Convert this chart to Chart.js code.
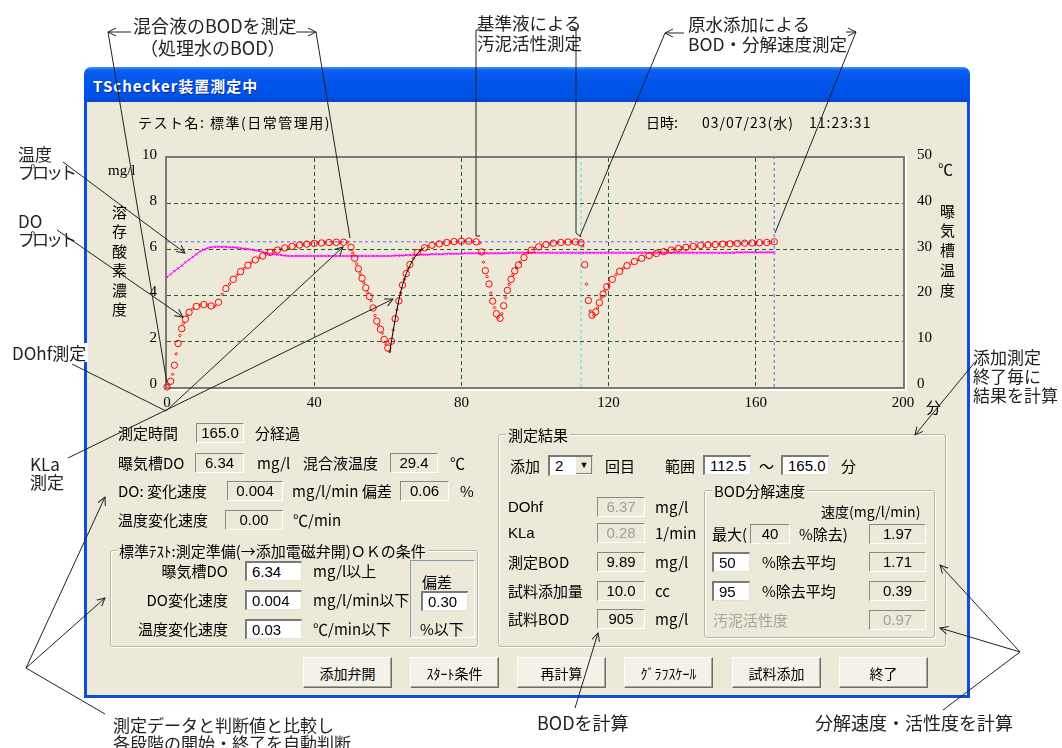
<!DOCTYPE html>
<html lang="ja">
<head>
<meta charset="utf-8">
<title>TSchecker装置測定中</title>
<script src="https://cdn.jsdelivr.net/npm/chart.js@4.4.1/dist/chart.umd.min.js"></script>
<style>
  body { margin:0; width:1062px; height:748px; position:relative; overflow:hidden; background:#fff;
         font-family:"Noto Sans CJK JP", sans-serif; color:#000; }
  .a { position:absolute; white-space:nowrap; line-height:1; }
  .a.lat { font-family:"Liberation Sans", sans-serif; }
  .a.gt { background:#ECE9D8; padding:0 2px; }
  .a.gray { color:#a8a69c; }
  .a.wbg { background:#fff; padding:1px 2px; }
  .a.kana { letter-spacing:-3px; }
  .a.note { color:#222; }
  #titlebar { position:absolute; left:84px; top:67px; width:886px; height:35px; border-radius:7px 7px 0 0;
              background:linear-gradient(to bottom,#3d95ff 0%,#0a5ff0 10%,#0055ea 45%,#0052e6 85%,#0046d0 100%); }
  #winbody { position:absolute; left:84px; top:102px; width:886px; height:596px; box-sizing:border-box;
             background:#ECE9D8; border:3px solid #0a4fe0; border-top:none; }
  #wintitle { position:absolute; left:93px; top:78px; color:#fff; font-weight:bold; font-size:15px;
              letter-spacing:1px; line-height:1; text-shadow:1px 1px 0 #0b2a8a; }
  #graphBox { position:absolute; left:90px; top:135px; width:870px; height:285px; }
  .box { position:absolute; height:20px; box-sizing:border-box; font-family:"Liberation Sans", sans-serif;
         font-size:15px; line-height:18px; text-align:center; border-style:solid; border-width:1px;
         border-color:#8a8a80 #fff #fff #8a8a80; }
  .box.in { background:#fff; border-width:2px 1px 1px 2px; border-color:#7a7a7a #e4e2d6 #e4e2d6 #7a7a7a;
            text-align:left; padding-left:5px; line-height:17px; }
  .box.dis { color:#a0a0a0; }
  .grp { position:absolute; box-sizing:border-box; border:1px solid #b8b5a6; border-radius:3px;
         box-shadow:1px 1px 0 #fff, inset 1px 1px 0 #fff; }
  .btn { position:absolute; top:657px; height:31px; width:89px; box-sizing:border-box; background:#f3f1e8;
         border:1px solid; border-color:#fff #6f6d62 #6f6d62 #fff; box-shadow:inset -1px -1px 0 #aca899;
         font-size:14px; display:flex; align-items:center; justify-content:center; }
  #ui, #notes { position:absolute; left:0; top:0; width:1062px; height:748px; }
  #arrows { position:absolute; left:0; top:0; z-index:10; pointer-events:none; }
</style>
</head>
<body>
<div id="titlebar"></div>
<div id="winbody"></div>
<div id="wintitle">TSchecker装置測定中</div>
<div id="graphBox"><canvas id="graph"></canvas></div>
<div id="ui"></div>
<div id="notes"></div>
<svg id="arrows" width="1062" height="748"></svg>

<script>
// 測定データ（時間は分）
// 第1段階: 混合液のBOD測定
const stage1Time = [0, 0.5, 1, 1.5, 2, 2.5, 3, 3.5, 4, 4.5, 5, 5.5, 6,
  7, 8, 9, 10, 11, 12, 13, 14, 15, 16, 17, 18, 19, 20, 21, 22, 23, 24, 25, 26, 27, 28,
  29, 30, 31, 32, 33, 34, 35, 36, 37, 38, 39, 40, 41, 42, 43, 44, 45, 46, 47, 48, 49];
const stage1DO = [0.0, 0.1, 0.25, 0.55, 0.95, 1.45, 1.9, 2.25, 2.55, 2.78, 2.96, 3.12, 3.26,
  3.42, 3.52, 3.58, 3.6, 3.57, 3.54, 3.53, 3.7, 4.05, 4.3, 4.5, 4.7, 4.88, 5.04, 5.18, 5.32, 5.45, 5.55, 5.64, 5.72, 5.8, 5.88,
  5.93, 5.98, 6.02, 6.07, 6.1, 6.14, 6.17, 6.2, 6.22, 6.24, 6.26, 6.27, 6.28, 6.29, 6.3, 6.31, 6.31, 6.32, 6.31, 6.32, 6.32];

// 第2段階: 基準液添加
const stage2Time = [50, 50.5, 51, 51.5, 52, 52.5, 53, 53.5, 54, 54.5, 55, 55.5, 56, 56.5, 57, 57.5, 58, 58.5,
  59, 59.5, 60, 60.5, 61, 61.5, 62, 62.5, 63, 63.5, 64, 64.5, 65, 65.5, 66,
  67, 68, 69, 70, 71, 72, 73, 74, 75, 76, 77, 78, 79, 80, 81, 82, 83, 84];
const stage2DO = [6.1, 5.85, 5.62, 5.38, 5.16, 4.95, 4.75, 4.55, 4.33, 4.12, 3.95, 3.77, 3.45, 3.12, 2.88, 2.7, 2.52, 2.35,
  2.08, 1.88, 1.7, 1.55, 2.0, 2.5, 2.98, 3.38, 3.76, 4.1, 4.45, 4.7, 4.95, 5.15, 5.35,
  5.62, 5.87, 5.98, 6.08, 6.14, 6.19, 6.22, 6.25, 6.28, 6.31, 6.33, 6.35, 6.36, 6.37, 6.37, 6.37, 6.36, 6.34];

// 第3段階: 基準液による汚泥活性測定
const stage3Time = [85, 85.5, 86, 86.5, 87, 87.5, 88, 88.5, 89, 89.5, 90, 90.5, 91, 91.5, 92, 92.5, 93, 93.5,
  94, 94.5, 95, 95.5, 96, 97, 98, 99, 100, 101, 102, 103, 104, 105, 106, 107, 108, 109, 110, 111, 112];
const stage3DO = [6.28, 5.9, 5.45, 5.08, 4.82, 4.5, 4.1, 3.75, 3.47, 3.2, 3.03, 3.0, 3.2, 3.55, 3.9, 4.22, 4.48, 4.7,
  4.9, 5.07, 5.2, 5.33, 5.45, 5.65, 5.85, 5.98, 6.05, 6.12, 6.17, 6.22, 6.25, 6.28, 6.3, 6.31, 6.32, 6.33, 6.33, 6.34, 6.33];

// 第4段階: 原水添加によるBOD・分解速度測定
const stage4Time = [112.5, 113, 113.5, 114, 114.5, 115, 115.5, 116, 116.5, 117, 117.5, 118, 118.5, 119, 119.5, 120,
  121, 122, 123, 124, 125, 126, 127, 128, 129, 130, 131, 132, 133, 134, 135, 136, 137, 138, 139, 140,
  141, 142, 143, 144, 145, 146, 147, 148, 149, 150, 151, 152, 153, 154, 155, 156, 157, 158, 159, 160,
  161, 162, 163, 164, 165];
const stage4DO = [6.3, 6.16, 5.34, 4.49, 3.78, 3.32, 3.14, 3.12, 3.28, 3.45, 3.68, 3.9, 4.06, 4.22, 4.38, 4.5,
  4.7, 4.9, 5.05, 5.19, 5.3, 5.4, 5.48, 5.55, 5.62, 5.68, 5.74, 5.79, 5.83, 5.87, 5.91, 5.95, 5.98, 6.02, 6.05, 6.08,
  6.1, 6.12, 6.14, 6.16, 6.18, 6.19, 6.2, 6.21, 6.22, 6.23, 6.24, 6.25, 6.25, 6.26, 6.27, 6.27, 6.28, 6.28, 6.29, 6.29,
  6.3, 6.3, 6.31, 6.32, 6.34];

// 再曝気のフィッティング曲線（KLa測定）
const fitTime = [60.5, 61, 61.5, 62, 62.5, 63, 63.5, 64, 65, 66, 67, 68, 69, 70];
const fitDO = [1.5, 2.0, 2.5, 2.95, 3.4, 3.8, 4.15, 4.45, 4.95, 5.3, 5.6, 5.82, 5.98, 6.1];

// 曝気槽温度（1分毎, ℃）
const tempValues = [
  24.0, 24.6, 25.3, 25.9, 26.5, 27.2, 27.8, 28.4, 29.0, 29.6,
  30.0, 30.3, 30.5, 30.6, 30.6, 30.6, 30.6, 30.5, 30.5, 30.4,
  30.3, 30.2, 30.1, 30.0, 29.8, 29.7, 29.5, 29.3, 29.1, 29.0,
  28.9, 28.8, 28.7, 28.6, 28.6, 28.6, 28.6, 28.6, 28.6, 28.6,
  28.6, 28.6, 28.6, 28.6, 28.6, 28.6, 28.6, 28.6, 28.6, 28.6,
  28.6, 28.6, 28.6, 28.6, 28.6, 28.6, 28.6, 28.6, 28.6, 28.6,
  28.6, 28.6, 28.7, 28.7, 28.7, 28.8, 28.8, 28.8, 28.9, 28.9,
  28.9, 28.9, 29.0, 29.0, 29.0, 29.0, 29.1, 29.1, 29.1, 29.1,
  29.1, 29.2, 29.2, 29.2, 29.2, 29.2, 29.2, 29.2, 29.2, 29.2,
  29.2, 29.2, 29.2, 29.3, 29.3, 29.3, 29.3, 29.3, 29.3, 29.3,
  29.3, 29.3, 29.3, 29.3, 29.3, 29.3, 29.3, 29.3, 29.3, 29.3,
  29.3, 29.3, 29.3, 29.3, 29.3, 29.3, 29.3, 29.3, 29.3, 29.3,
  29.3, 29.3, 29.3, 29.3, 29.3, 29.3, 29.3, 29.3, 29.3, 29.3,
  29.3, 29.3, 29.3, 29.3, 29.3, 29.3, 29.3, 29.3, 29.3, 29.3,
  29.3, 29.3, 29.3, 29.3, 29.3, 29.3, 29.3, 29.3, 29.3, 29.3,
  29.3, 29.3, 29.3, 29.3, 29.3, 29.4, 29.4, 29.4, 29.4, 29.4,
  29.4, 29.4, 29.4, 29.4, 29.4, 29.4];

// 判定値・範囲
const doLevel = 6.34;      // 曝気槽DO
const rangeStart = 112.5;  // 範囲（開始）
const rangeEnd = 165.0;    // 範囲（終了）

const xTickStep = 40;
const doTickStep = 2;
const tempTickStep = 10;

// ---- グラフ ----
const doPoints = [];
[[stage1Time, stage1DO], [stage2Time, stage2DO], [stage3Time, stage3DO], [stage4Time, stage4DO]]
  .forEach(([ts, vs]) => ts.forEach((t, i) => doPoints.push({ x: t, y: vs[i] })));
const tempPoints = tempValues.map((v, i) => ({ x: i, y: v }));
const fitPoints = fitTime.map((t, i) => ({ x: t, y: fitDO[i] }));

const gridColor = '#245f24';
const noEdge = (min, max) => c => (c.tick && (c.tick.value === min || c.tick.value === max)) ? 'rgba(0,0,0,0)' : gridColor;
const tickFont = { family: 'Liberation Serif', size: 15 };

// グラフ枠（灰色の枠＋白いハイライト）
const framePlugin = {
  id: 'frame',
  beforeDatasetsDraw(chart) {
    const { ctx, chartArea: a } = chart;
    ctx.save();
    ctx.strokeStyle = '#7a7a7a';
    ctx.lineWidth = 2;
    ctx.strokeRect(a.left - 1, a.top - 1, a.width + 2, a.height + 2);
    ctx.strokeStyle = '#ffffff';
    ctx.beginPath();
    ctx.moveTo(a.left - 2, a.bottom + 3);
    ctx.lineTo(a.right + 4, a.bottom + 3);
    ctx.moveTo(a.right + 3, a.top - 2);
    ctx.lineTo(a.right + 3, a.bottom + 4);
    ctx.stroke();
    ctx.restore();
  }
};

new Chart(document.getElementById('graph'), {
  type: 'scatter',
  data: {
    datasets: [
      {
        label: 'KLa',
        data: fitPoints,
        showLine: true,
        borderColor: '#000',
        borderWidth: 1,
        pointRadius: 0,
        yAxisID: 'y'
      },
      {
        label: 'DO',
        data: doPoints,
        borderColor: '#ff0000',
        backgroundColor: 'rgba(0,0,0,0)',
        borderWidth: 1,
        pointStyle: c => (c.dataIndex % 2 === 0 ? 'circle' : 'rectRot'),
        pointRadius: c => (c.dataIndex % 2 === 0 ? 3.2 : 1.4),
        clip: false,
        yAxisID: 'y'
      },
      {
        label: '温度',
        data: tempPoints,
        showLine: true,
        borderColor: '#ff00ff',
        backgroundColor: '#ff00ff',
        borderWidth: 1,
        pointStyle: 'crossRot',
        pointRadius: 1.6,
        pointBorderWidth: 1,
        yAxisID: 'y1'
      },
      {
        label: 'DO判定値',
        data: [{ x: 0, y: doLevel }, { x: rangeEnd, y: doLevel }],
        showLine: true,
        borderColor: '#5b5bff',
        borderWidth: 1,
        borderDash: [3, 3],
        pointRadius: 0,
        yAxisID: 'y'
      },
      {
        label: '範囲終了',
        data: [{ x: rangeEnd, y: 0 }, { x: rangeEnd, y: 10 }],
        showLine: true,
        borderColor: '#5b5bff',
        borderWidth: 1,
        borderDash: [3, 3],
        pointRadius: 0,
        yAxisID: 'y'
      },
      {
        label: '範囲開始',
        data: [{ x: rangeStart, y: 0 }, { x: rangeStart, y: 10 }],
        showLine: true,
        borderColor: '#46dede',
        borderWidth: 1,
        borderDash: [3, 3],
        pointRadius: 0,
        yAxisID: 'y'
      }
    ]
  },
  options: {
    responsive: true,
    maintainAspectRatio: false,
    animation: false,
    devicePixelRatio: 1,
    layout: { padding: { top: 17, left: 0, right: 0, bottom: 0 } },
    plugins: { legend: { display: false }, tooltip: { enabled: false } },
    scales: {
      x: {
        type: 'linear', min: 0, max: 200,
        ticks: { stepSize: xTickStep, padding: 7, color: '#000', font: tickFont },
        grid: { color: noEdge(0, 200), drawTicks: false, lineWidth: 1 },
        border: { display: false, dash: [4, 3] },
        afterFit: s => { s.height = 33; }
      },
      y: {
        position: 'left', min: 0, max: 10,
        ticks: { stepSize: doTickStep, padding: 10, labelOffset: -3, color: '#000', font: tickFont },
        grid: { color: noEdge(0, 10), drawTicks: false, lineWidth: 1 },
        border: { display: false, dash: [4, 3] },
        afterFit: s => { s.width = 77; }
      },
      y1: {
        position: 'right', min: 0, max: 50,
        ticks: { stepSize: tempTickStep, padding: 14, labelOffset: -3, color: '#000', font: tickFont },
        grid: { display: false, drawTicks: false },
        border: { display: false },
        afterFit: s => { s.width = 57; }
      }
    }
  },
  plugins: [framePlugin]
});

// ---- 画面の文字・入力欄 ----
const ui = document.getElementById('ui');
const notes = document.getElementById('notes');

function addText(parent, text, x, cy, size, cls) {
  const d = document.createElement('div');
  d.className = 'a ' + (cls || '');
  if (cls === 'r') {
    d.style.right = (1062 - x) + 'px';   // 右揃え
  } else {
    d.style.left = x + 'px';
  }
  d.style.top = (cy - size / 2) + 'px';
  d.style.fontSize = size + 'px';
  d.innerHTML = text;
  parent.appendChild(d);
  return d;
}

function addBox(text, x, top, w, kind) {
  const d = document.createElement('div');
  d.className = 'box ' + kind;
  d.style.left = x + 'px';
  d.style.top = top + 'px';
  d.style.width = w + 'px';
  d.textContent = text;
  ui.appendChild(d);
}

function addGroup(x, y, w, h, style) {
  const d = document.createElement('div');
  d.className = 'grp';
  d.style.cssText = `left:${x}px;top:${y}px;width:${w}px;height:${h}px;` + (style || '');
  ui.appendChild(d);
}

// 枠
addGroup(110, 550, 368, 97);
addGroup(498, 434, 448, 213);
addGroup(704, 490, 231, 148);
addGroup(410, 560, 65, 78, 'border-radius:0;border-color:#7f9db9 #fff #fff #7f9db9;box-shadow:none;');

// ヘッダ
addText(ui, 'テスト名: 標準(日常管理用)', 138, 122, 14).style.letterSpacing = '1.5px';
addText(ui, '日時:', 646, 122, 14);
addText(ui, '03/07/23(水)', 702, 122, 14).style.letterSpacing = '1px';
addText(ui, '11:23:31', 809, 122, 14).style.letterSpacing = '1px';

// 軸タイトル
addText(ui, 'mg/l', 108, 170, 15).style.fontFamily = 'Liberation Serif';
addText(ui, '溶<br>存<br>酸<br>素<br>濃<br>度', 112, 209, 15).style.lineHeight = '19.5px';
addText(ui, '℃', 938, 168, 15);
addText(ui, '曝<br>気<br>槽<br>温<br>度', 940, 208, 15).style.lineHeight = '19.8px';
addText(ui, '分', 926, 406, 15);

// 左側の状態表示
const leftLabels = [
  ['測定時間', 118, 432], ['分経過', 255, 432],
  ['曝気槽DO', 118, 462], ['mg/l', 257, 462], ['混合液温度', 303, 462], ['℃', 450, 462],
  ['DO: 変化速度', 118, 490], ['mg/l/min', 292, 490], ['偏差', 362, 490], ['%', 460, 490],
  ['温度変化速度', 118, 519], ['℃/min', 293, 519],
  ['mg/l以上', 313, 570], ['mg/l/min以下', 313, 599], ['℃/min以下', 313, 628],
  ['偏差', 422, 581], ['%以下', 420, 628]
];
leftLabels.forEach(([t, x, cy]) => addText(ui, t, x, cy, 15));
addText(ui, '標準ﾃｽﾄ:測定準備(→添加電磁弁開)ＯＫの条件', 117, 550, 15, 'gt');
[['曝気槽DO', 570], ['DO変化速度', 599], ['温度変化速度', 628]].forEach(([t, cy]) => addText(ui, t, 228, cy, 15, 'r'));

// 右側の測定結果
const rightLabels = [
  ['添加', 510, 465], ['回目', 605, 465], ['範囲', 665, 465], ['〜', 759, 465], ['分', 841, 465],
  ['mg/l', 655, 506], ['1/min', 655, 532],
  ['測定BOD', 508, 561], ['mg/l', 655, 561], ['試料添加量', 508, 590], ['cc', 655, 590],
  ['試料BOD', 508, 618], ['mg/l', 655, 618],
  ['最大(', 712, 533], ['%除去)', 799, 533], ['%除去平均', 762, 561], ['%除去平均', 762, 590]
];
rightLabels.forEach(([t, x, cy]) => addText(ui, t, x, cy, 15));
addText(ui, 'DOhf', 508, 506, 15, 'lat');
addText(ui, 'KLa', 508, 532, 15, 'lat');
addText(ui, '測定結果', 506, 434, 15, 'gt');
addText(ui, 'BOD分解速度', 712, 490, 15, 'gt');
addText(ui, '速度(mg/l/min)', 821, 511, 14);
addText(ui, '汚泥活性度', 713, 619, 15, 'gray');

const boxes = [
  ['165.0', 196, 423, 48, 'ro'], ['6.34', 195, 453, 49, 'ro'], ['29.4', 390, 453, 48, 'ro'],
  ['0.004', 227, 481, 56, 'ro'], ['0.06', 400, 481, 49, 'ro'], ['0.00', 225, 510, 58, 'ro'],
  ['6.34', 245, 561, 57, 'in'], ['0.004', 245, 590, 57, 'in'], ['0.03', 245, 619, 57, 'in'], ['0.30', 421, 591, 47, 'in'],
  ['112.5', 703, 455, 48, 'in'], ['165.0', 781, 455, 48, 'in'],
  ['6.37', 597, 497, 48, 'dis'], ['0.28', 597, 523, 48, 'dis'], ['9.89', 597, 552, 48, 'ro'],
  ['10.0', 597, 581, 48, 'ro'], ['905', 597, 609, 48, 'ro'],
  ['40', 750, 524, 40, 'ro'], ['1.97', 869, 524, 57, 'ro'], ['50', 712, 552, 38, 'in'], ['1.71', 869, 552, 57, 'ro'],
  ['95', 712, 581, 38, 'in'], ['0.39', 869, 581, 57, 'ro'], ['0.97', 869, 610, 57, 'dis']
];
boxes.forEach(b => addBox(...b));

// 添加回数のドロップダウン
const combo = document.createElement('div');
combo.className = 'box in';
combo.style.cssText = 'left:548px;top:455px;width:45px;height:21px;';
combo.innerHTML = '2<span style="position:absolute;right:0;top:0;width:16px;height:17px;background:#ECE9D8;' +
  'border-left:1px solid #fff;box-shadow:inset -1px -1px 0 #808080;font-size:9px;line-height:17px;text-align:center;">▼</span>';
ui.appendChild(combo);

// ボタン
[['添加弁開', 303], ['ｽﾀｰﾄ条件', 410], ['再計算', 517], ['ｸﾞﾗﾌｽｹｰﾙ', 624], ['試料添加', 732], ['終了', 839]]
  .forEach(([t, x]) => {
    const b = document.createElement('div');
    b.className = 'btn';
    b.style.left = x + 'px';
    b.textContent = t;
    ui.appendChild(b);
  });

// ---- 説明書き ----
const noteTexts = [
  ['混合液のBODを測定', 133, 25, 18, ''], ['（処理水のBOD）', 140, 47, 18, ''],
  ['基準液による', 477, 23, 17.5, ''], ['汚泥活性測定', 477, 43, 17.5, ''],
  ['原水添加による', 688, 24, 17.5, ''], ['BOD・分解速度測定', 688, 44, 17.5, ''],
  ['温度', 18, 153, 17, ''], ['プロット', 18, 171, 17, 'kana'],
  ['DO', 18, 220, 17, ''], ['プロット', 18, 238, 17, 'kana'],
  ['DOhf測定', 10, 351, 17, 'wbg'], ['KLa', 30, 463, 17, ''], ['測定', 30, 481, 17, ''],
  ['添加測定', 971, 355, 17, 'wbg'], ['終了毎に', 971, 374, 17, 'wbg'], ['結果を計算', 971, 393, 17, 'wbg'],
  ['測定データと判断値と比較し', 113, 724, 17, ''], ['各段階の開始・終了を自動判断', 113, 742, 17, ''],
  ['BODを計算', 537, 722, 18, ''], ['分解速度・活性度を計算', 815, 722, 18, '']
];
noteTexts.forEach(([t, x, cy, s, c]) => addText(notes, t, x, cy, s, 'note ' + c));

// 引き出し線
const svg = document.getElementById('arrows');
svg.innerHTML = `<defs><marker id="ah" markerWidth="10" markerHeight="10" refX="8" refY="5" orient="auto" markerUnits="userSpaceOnUse">
  <path d="M0,1 L8,5 L0,9" fill="none" stroke="#222" stroke-width="1"/></marker></defs>`;
const leaders = [
  // [点列, 矢印]
  [[131, 32, 108, 32], true], [[108, 32, 167, 383], false],
  [[296, 32, 316, 32], true], [[316, 32, 350, 238], false],
  [[482, 30, 476, 30, 476, 236, 480, 236], false],
  [[572, 28, 576, 28, 576, 233, 581, 237], false],
  [[684, 33, 665, 33], true], [[665, 33, 580, 236], false],
  [[846, 32, 856, 32], true], [[856, 32, 775, 233], false],
  [[63, 162, 185, 253], true],
  [[57, 230, 183, 317], true],
  [[72, 364, 166, 411, 343, 247], true],
  [[68, 458, 393, 299], true],
  [[975, 362, 915, 435], true],
  [[105, 714, 26, 668], false], [[26, 668, 105, 497], true], [[26, 668, 105, 598], true],
  [[575, 708, 598, 633], true],
  [[943, 710, 1020, 652], false], [[1020, 652, 940, 565], true], [[1020, 652, 940, 628], true]
];
leaders.forEach(([pts, head]) => {
  const p = document.createElementNS('http://www.w3.org/2000/svg', 'polyline');
  p.setAttribute('points', pts.join(' '));
  p.setAttribute('fill', 'none');
  p.setAttribute('stroke', '#222');
  p.setAttribute('stroke-width', '1');
  if (head) p.setAttribute('marker-end', 'url(#ah)');
  svg.appendChild(p);
});
</script>
</body>
</html>
